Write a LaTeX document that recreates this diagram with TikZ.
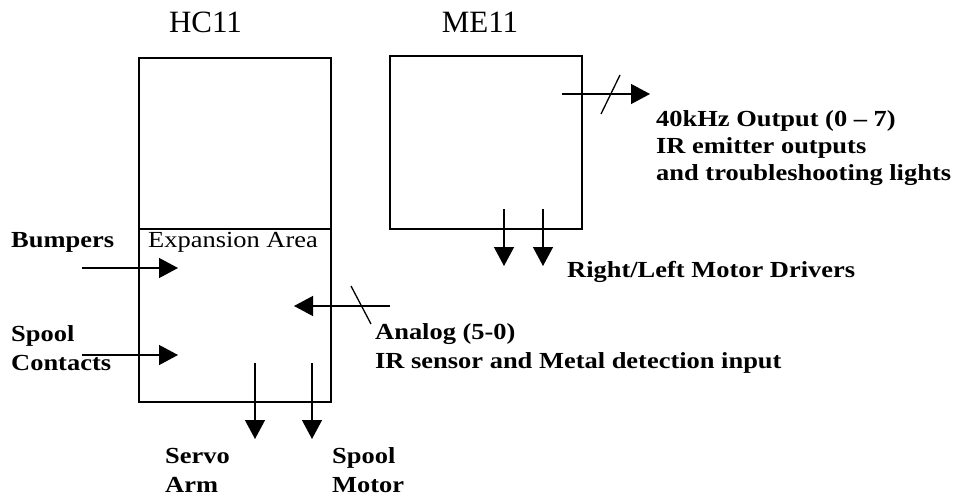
\documentclass[tikz,border=0pt]{standalone}
\usepackage{fontspec}
\setmainfont{Liberation Serif}
\newfontfamily\labelfont[FakeStretch=1.15]{Liberation Serif}
\usetikzlibrary{arrows.meta, positioning}

\begin{document}
\begin{tikzpicture}[
    x=1pt, y=-1pt,
    board/.style={rectangle, draw, line width=1.8pt, inner sep=0pt},
    title/.style={anchor=base, inner sep=0pt, font=\fontsize{31}{34}\selectfont},
    lbl/.style={anchor=base west, align=left, inner sep=0pt, font=\labelfont\fontsize{23}{29}\selectfont\bfseries},
    plain/.style={anchor=base west, inner sep=0pt, font=\labelfont\fontsize{23}{29}\selectfont},
    sig/.style={-{Triangle[length=19pt, width=20pt]}, line width=1.3pt},
    bus/.style={line width=1.3pt}
]
    \useasboundingbox (0,0) rectangle (956,498);

    % boards
    \node[board, minimum width=192pt, minimum height=344pt] (hc) at (235,230) {};
    \node[board, minimum width=192pt, minimum height=173pt] (me) at (486,142.5) {};
    \draw[line width=1.8pt] (hc.west |- 0,229) -- (hc.east |- 0,229);

    \node[title] (hctitle) at (205.5,32) {HC11};
    \node[title] (metitle) at (480,32) {ME11};

    % labels (base = last line)
    \node[lbl] (bumpers) at (11,247) {Bumpers};
    \node[lbl] (spoolc) at (11,370) {Spool\\Contacts};
    \node[plain] (expansion) at (148,247) {Expansion Area};
    \node[lbl] (analog) at (375,368) {Analog (5-0)\\IR sensor and Metal detection input};
    \node[lbl] (servo) at (165,492) {Servo\\Arm};
    \node[lbl] (spoolm) at (332,492) {Spool\\Motor};
    \node[lbl, font=\labelfont\fontsize{23}{27}\selectfont\bfseries] (emitter) at (656,180) {40kHz Output (0 – 7)\\IR emitter outputs\\and troubleshooting lights};
    \node[lbl] (drivers) at (567,277) {Right/Left Motor Drivers};

    % signal end points
    \coordinate (bumpsrc) at (82,268);
    \coordinate (bumpdst) at (178,268);
    \coordinate (contsrc) at (82,355);
    \coordinate (contdst) at (178,355);
    \coordinate (anasrc) at (390,306);
    \coordinate (anadst) at (294,306);
    \coordinate (servosrc) at (255,363);
    \coordinate (servodst) at (255,439);
    \coordinate (motorsrc) at (312,363);
    \coordinate (motordst) at (312,439);
    \coordinate (irsrc) at (562,94);
    \coordinate (irdst) at (650,94);
    \coordinate (rightsrc) at (504,209);
    \coordinate (rightdst) at (504,266);
    \coordinate (leftsrc) at (543,209);
    \coordinate (leftdst) at (543,266);

    \draw[sig] (bumpsrc) -- (bumpdst);
    \draw[sig] (contsrc) -- (contdst);
    \draw[sig] (anasrc) -- (anadst);
    \draw[sig] (servosrc) -- (servodst);
    \draw[sig] (motorsrc) -- (motordst);
    \draw[sig] (irsrc) -- (irdst);
    \draw[sig] (rightsrc) -- (rightdst);
    \draw[sig] (leftsrc) -- (leftdst);

    % bus slashes
    \draw[bus] (351,286) -- (371,324);
    \draw[bus] (601,114) -- (620,75);
\end{tikzpicture}
\end{document}
